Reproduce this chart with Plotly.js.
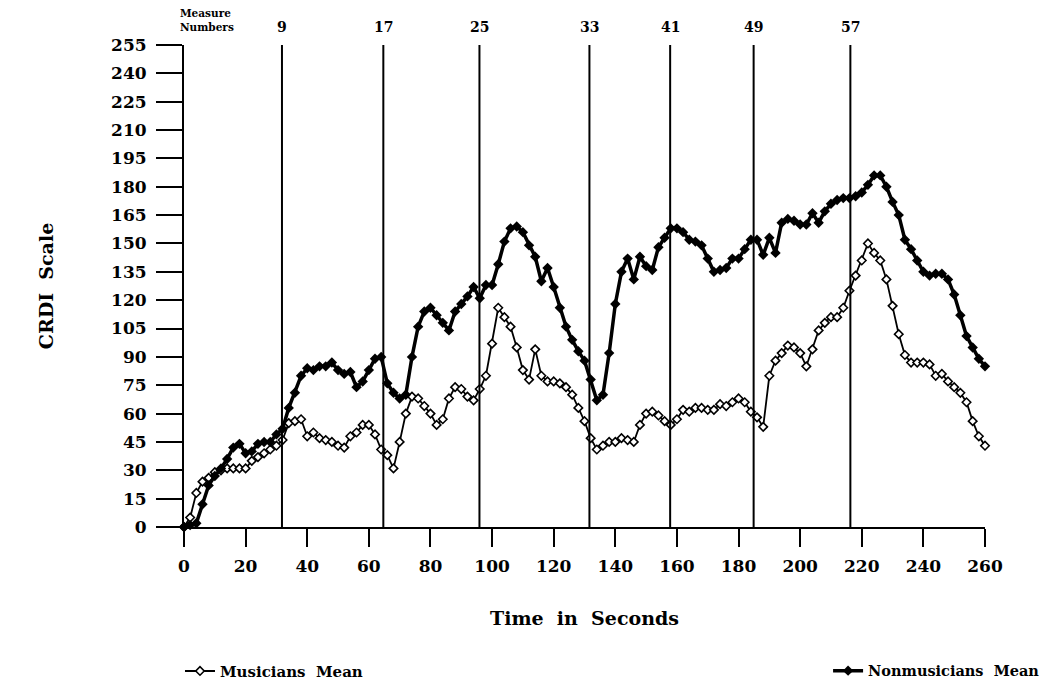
<!DOCTYPE html>
<html>
<head>
<meta charset="utf-8">
<script src="https://cdn.plot.ly/plotly-3.0.1.min.js"></script>
<style>html,body{margin:0;padding:0;background:#fff;}#chart{width:1048px;height:686px;}</style>
</head>
<body>
<div id="chart"></div>
<script>
// Time in seconds (sampled every 2 s)
const timeSec = [0,2,4,6,8,10,12,14,16,18,20,22,24,26,28,30,32,34,36,38,40,42,44,46,48,50,52,54,56,58,60,62,64,66,68,70,72,74,76,78,80,82,84,86,88,90,92,94,96,98,100,102,104,106,108,110,112,114,116,118,120,122,124,126,128,130,132,134,136,138,140,142,144,146,148,150,152,154,156,158,160,162,164,166,168,170,172,174,176,178,180,182,184,186,188,190,192,194,196,198,200,202,204,206,208,210,212,214,216,218,220,222,224,226,228,230,232,234,236,238,240,242,244,246,248,250,252,254,256,258,260];

const musiciansMean = [0,5,18,24,26,29,30,31,31,31,31,35,37,39,41,43,46,55,56,57,48,50,47,46,45,43,42,48,50,54,54,49,41,38,31,45,60,69,68,64,60,54,57,68,74,73,69,67,73,80,97,116,111,106,95,83,78,94,80,77,77,76,74,70,63,56,47,41,43,45,45,47,46,45,54,60,61,59,56,54,57,62,61,63,63,62,62,65,64,66,68,66,61,58,53,80,88,92,96,95,92,85,94,104,108,111,111,116,125,133,141,150,145,141,131,117,102,91,87,87,87,86,80,81,77,74,71,66,56,48,43];

const nonmusiciansMean = [0,1,2,12,22,27,31,36,42,44,39,40,44,45,45,49,52,63,71,80,84,83,85,85,87,83,81,82,74,77,83,89,90,76,71,68,70,90,106,114,116,112,108,104,114,118,122,127,121,128,128,139,151,158,159,156,149,143,130,137,127,116,106,99,93,88,78,67,70,92,118,135,142,131,143,138,136,148,153,158,158,156,152,151,149,142,135,136,137,142,142,147,152,152,144,153,145,161,163,162,160,160,166,161,167,171,173,174,174,175,177,181,186,186,180,172,165,152,147,141,135,133,134,134,131,123,112,101,95,89,85];

// Measure markers (time in seconds, measure number)
const measureTimes = [31.8, 64.7, 95.9, 131.6, 157.8, 184.9, 216.3];
const measureLabels = ['9','17','25','33','41','49','57'];

const FONT = '"DejaVu Serif", serif';

const traces = [
  {
    x: timeSec, y: musiciansMean, name: 'Musicians  Mean', type: 'scatter', mode: 'lines+markers',
    line: {color: '#000', width: 1.8},
    marker: {symbol: 'diamond', size: 6.5, color: '#fff', line: {color: '#000', width: 1.6}},
    cliponaxis: false, legend: 'legend'
  },
  {
    x: timeSec, y: nonmusiciansMean, name: 'Nonmusicians  Mean', type: 'scatter', mode: 'lines+markers',
    line: {color: '#000', width: 3.5},
    marker: {symbol: 'diamond', size: 8, color: '#000'},
    cliponaxis: false, legend: 'legend2'
  }
];

const shapes = measureTimes.map(t => ({
  type: 'line', xref: 'x', yref: 'paper', x0: t, x1: t, y0: 0, y1: 1,
  line: {color: '#000', width: 2}
}));

const annotations = measureTimes.map((t, i) => ({
  x: t, xref: 'x', y: 1, yref: 'paper', yanchor: 'bottom', yshift: 8,
  text: '<b>' + measureLabels[i] + '</b>', showarrow: false,
  font: {family: FONT, size: 14, color: '#000'}
}));
annotations.push({
  x: 0, xref: 'x', y: 1, yref: 'paper', xanchor: 'left', yanchor: 'bottom', yshift: 10, xshift: -6,
  text: '<b>Measure<br>Numbers</b>', showarrow: false, align: 'left',
  font: {family: FONT, size: 10.5, color: '#000'}
});

const layout = {
  width: 1048, height: 686,
  margin: {l: 184, r: 63, t: 45, b: 159, autoexpand: false},
  paper_bgcolor: '#fff', plot_bgcolor: '#fff',
  font: {family: FONT, color: '#000'},
  showlegend: true,
  xaxis: {
    range: [0, 260], tick0: 0, dtick: 20, ticks: 'outside', ticklen: 18, tickwidth: 2, tickcolor: '#000',
    showline: true, linewidth: 2, linecolor: '#000', showgrid: false, zeroline: false,
    tickfont: {family: FONT, size: 17, color: '#000', weight: 'bold'},
    ticklabelstandoff: 5,
    title: {text: '<b>Time  in  Seconds</b>', font: {family: FONT, size: 19, color: '#000'}, standoff: 36}
  },
  yaxis: {
    range: [0, 255], tick0: 0, dtick: 15, ticks: 'outside', ticklen: 26, tickwidth: 2, tickcolor: '#000',
    showline: true, linewidth: 2, linecolor: '#000', showgrid: false, zeroline: false,
    tickfont: {family: FONT, size: 17, color: '#000', weight: 'bold'},
    ticklabelstandoff: 6,
    title: {text: '<b>CRDI  Scale</b>', font: {family: FONT, size: 19, color: '#000'}, standoff: 52}
  },
  legend: {
    x: -0.005, y: -0.265, xanchor: 'left', yanchor: 'top', orientation: 'h',
    font: {family: FONT, size: 15, color: '#000', weight: 'bold'}, bgcolor: 'rgba(0,0,0,0)'
  },
  legend2: {
    x: 1.075, y: -0.265, xanchor: 'right', yanchor: 'top', orientation: 'h',
    font: {family: FONT, size: 14.5, color: '#000', weight: 'bold'}, bgcolor: 'rgba(0,0,0,0)'
  },
  shapes: shapes,
  annotations: annotations
};

Plotly.newPlot('chart', traces, layout, {displayModeBar: false, staticPlot: true});
</script>
</body>
</html>
